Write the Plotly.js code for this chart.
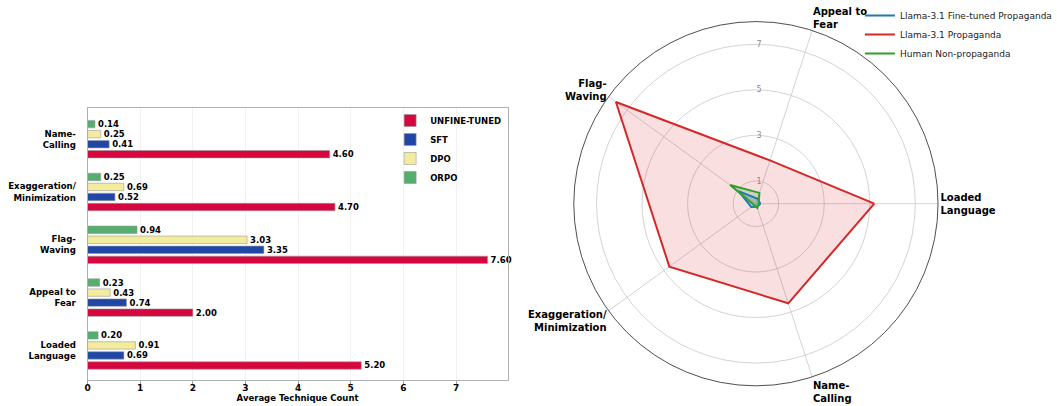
<!DOCTYPE html>
<html>
<head>
<meta charset="utf-8">
<script src="https://cdn.plot.ly/plotly-3.0.1.min.js"></script>
<style>html,body{margin:0;padding:0;background:#fff;overflow:hidden;}#chart{width:1057px;height:406px;overflow:hidden;}</style>
</head>
<body>
<div id="chart"></div>
<script>
// ---- Data ----
const techniques = ["Loaded Language", "Appeal to Fear", "Flag-Waving", "Exaggeration/Minimization", "Name-Calling"];
const barTickText = ["Loaded<br>Language", "Appeal to<br>Fear", "Flag-<br>Waving", "Exaggeration/<br>Minimization", "Name-<br>Calling"];
const positions = [0, 1, 2, 3, 4];
const unfineTuned = [5.20, 2.00, 7.60, 4.70, 4.60];
const sft = [0.69, 0.74, 3.35, 0.52, 0.41];
const dpo = [0.91, 0.43, 3.03, 0.69, 0.25];
const orpo = [0.20, 0.23, 0.94, 0.25, 0.14];
const xTicks = [0, 1, 2, 3, 4, 5, 6, 7];

const radarLabels = ["Loaded<br>Language", "Appeal to<br>Fear", "Flag-<br>Waving", "Exaggeration/<br>Minimization", "Name-<br>Calling"];
const radarFineTuned = [0.20, 0.23, 0.94, 0.25, 0.14];
const radarPropaganda = [5.20, 2.00, 7.60, 4.70, 4.60];
const radarHuman = [0.12, 0.50, 1.40, 0.10, 0.20];
const radialTicks = [1, 3, 5, 7];

const FONT = "DejaVu Sans";
const bold = (s) => ({family: FONT, size: s, color: "#000", weight: "bold"});

function barTrace(name, vals, color) {
  return {
    type: "bar", orientation: "h", name: name,
    x: vals, y: positions,
    marker: {color: color, line: {color: "#9a9a9a", width: 0.6}},
    text: vals.map(v => v.toFixed(2)),
    textposition: "outside", constraintext: "none", cliponaxis: false,
    textfont: bold(8.5),
    xaxis: "x", yaxis: "y", legend: "legend",
    hoverinfo: "skip"
  };
}

const closeArr = a => a.concat([a[0]]);
const closedTheta = closeArr(radarLabels);

function radarFill(vals, fill) {
  return {type: "scatterpolar", r: closeArr(vals), theta: closedTheta, mode: "lines",
    fill: "toself", fillcolor: fill, line: {width: 0}, showlegend: false, subplot: "polar", hoverinfo: "skip"};
}
function radarLine(name, vals, color) {
  return {type: "scatterpolar", r: closeArr(vals), theta: closedTheta, mode: "lines", name: name,
    line: {color: color, width: 2}, subplot: "polar", legend: "legend2", hoverinfo: "skip"};
}

const data = [
  barTrace("UNFINE-TUNED", unfineTuned, "#d6063e"),
  barTrace("SFT", sft, "#2147a6"),
  barTrace("DPO", dpo, "#f3eb9d"),
  barTrace("ORPO", orpo, "#55ae6e"),
  radarFill(radarFineTuned, "rgba(31,119,180,0.22)"),
  radarFill(radarPropaganda, "rgba(214,39,40,0.15)"),
  radarFill(radarHuman, "rgba(44,160,44,0.22)"),
  radarLine("Llama-3.1 Fine-tuned Propaganda", radarFineTuned, "#1f77b4"),
  radarLine("Llama-3.1 Propaganda", radarPropaganda, "#d62728"),
  radarLine("Human Non-propaganda", radarHuman, "#2ca02c")
];

const layout = {
  width: 1057, height: 406,
  margin: {l: 0, r: 0, t: 0, b: 0},
  paper_bgcolor: "#fff", plot_bgcolor: "#fff",
  font: {family: FONT, size: 9, color: "#000"},
  barmode: "group", bargap: 0.24, bargroupgap: 0.26,
  xaxis: {
    domain: [88/1057, 510/1057], range: [0, 7.98],
    tickvals: xTicks, tickfont: bold(9),
    showgrid: true, gridcolor: "#efefef", gridwidth: 0.8,
    zeroline: false, showline: true, linecolor: "#b0b0b0", linewidth: 1, mirror: true,
    ticks: "outside", ticklen: 3, tickcolor: "#888", tickwidth: 0.8,
    ticklabelstandoff: -4,
    title: {text: "Average Technique Count", font: bold(8.5), standoff: 0},
    automargin: false
  },
  yaxis: {
    domain: [1 - 380/406, 1 - 108/406], range: [-0.56, 4.59],
    tickvals: positions, ticktext: barTickText, tickfont: bold(8.6),
    showgrid: false, zeroline: false, showline: true, linecolor: "#b0b0b0", linewidth: 1, mirror: true,
    ticks: "", ticklabelstandoff: 9, automargin: false
  },
  legend: {
    x: 392/1057, y: 1 - 106/406, xanchor: "left", yanchor: "top",
    traceorder: "normal", font: bold(8.5), bgcolor: "rgba(255,255,255,0)", borderwidth: 0
  },
  legend2: {
    x: 864/1057, y: 1 - 1/406, xanchor: "left", yanchor: "top",
    traceorder: "normal", font: {family: FONT, size: 9, color: "#222"}, bgcolor: "rgba(255,255,255,0)", borderwidth: 0
  },
  polar: {
    domain: {x: [(759.5-183)/1057, (759.5+183)/1057], y: [1 - (203.7+183)/406, 1 - (203.7-183)/406]},
    bgcolor: "#fff",
    angularaxis: {
      type: "category", categoryorder: "array", categoryarray: radarLabels,
      rotation: 0, direction: "counterclockwise",
      tickfont: bold(10), ticks: "",
      showgrid: true, gridcolor: "#c8c8c8", gridwidth: 0.8,
      showline: true, linecolor: "#222", linewidth: 0.8
    },
    radialaxis: {
      range: [0, 8], tickvals: radialTicks, angle: 90, tickangle: 90,
      tickfont: {family: FONT, size: 8, color: "#8a8a8a"},
      showgrid: true, gridcolor: "#c8c8c8", gridwidth: 0.8,
      showline: false, ticks: ""
    }
  },
  showlegend: true
};

Plotly.newPlot("chart", data, layout, {displayModeBar: false, staticPlot: true});
</script>
</body>
</html>
